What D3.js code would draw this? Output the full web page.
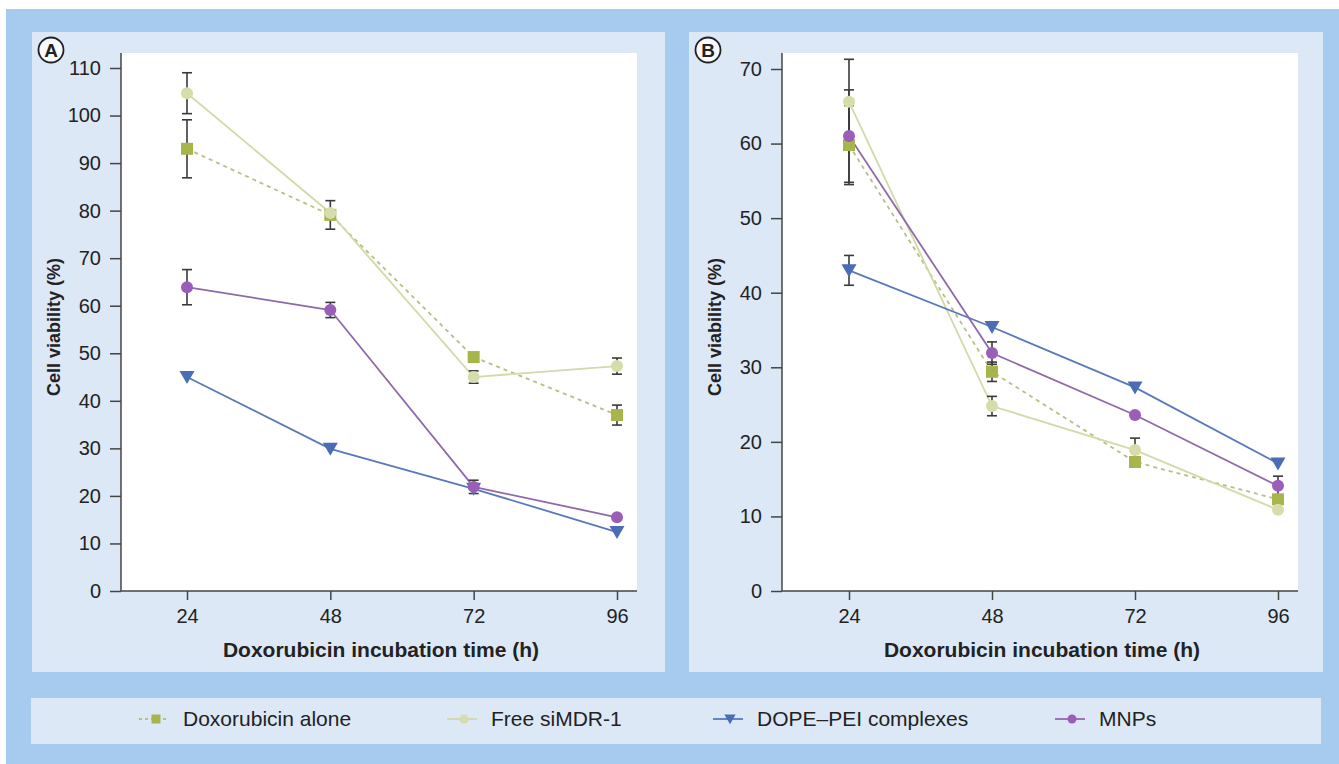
<!DOCTYPE html>
<html><head><meta charset="utf-8">
<script src="https://cdn.jsdelivr.net/npm/d3@7/dist/d3.min.js"></script>
<style>body{margin:0;background:#fff;}svg{display:block;font-family:"Liberation Sans",Arial,sans-serif;}</style>
</head><body>
<svg id="c" width="1339" height="764"></svg>
<script>
const hours = [24, 48, 72, 96];
const seriesNames = ["Doxorubicin alone", "Free siMDR-1", "DOPE\u2013PEI complexes", "MNPs"];
const yTicksA = [0,10,20,30,40,50,60,70,80,90,100,110];
const yTicksB = [0,10,20,30,40,50,60,70];

// Panel A
const doxA  = [93.0, 79.1, 49.2, 37.0];
const doxAErr = [6.1, 3.0, 0, 2.1];
const freeA = [104.7, 79.5, 45.0, 47.3];
const freeAErr = [4.3, 0, 1.3, 1.7];
const dopeA = [45.0, 29.9, 21.5, 12.4];
const dopeAErr = [0, 0, 0, 0];
const mnpA  = [63.9, 59.1, 21.9, 15.5];
const mnpAErr = [3.7, 1.6, 1.4, 0];

// Panel B
const doxB  = [59.8, 29.4, 17.3, 12.3];
const doxBErr = [5.3, 1.3, 0, 0];
const freeB = [65.6, 24.8, 18.9, 10.9];
const freeBErr = [5.7, 1.3, 1.6, 0];
const dopeB = [43.0, 35.4, 27.3, 17.1];
const dopeBErr = [2.0, 0, 0, 0];
const mnpB  = [61.0, 31.9, 23.6, 14.1];
const mnpBErr = [6.2, 1.5, 0, 1.3];

const styles = [
  {line:"#b8bf86", dash:"4,4", fill:"#a8b44c", shape:"square"},
  {line:"#d3d9a8", dash:null, fill:"#d6dcaa", shape:"circle"},
  {line:"#5a79bb", dash:null, fill:"#4a6db6", shape:"tri"},
  {line:"#8f6aab", dash:null, fill:"#9a5db8", shape:"circle"}
];

const svg = d3.select("#c");
svg.append("rect").attr("x",6).attr("y",9).attr("width",1333).attr("height",755).attr("fill","#a6cbee");

function panel(opt){
  const {px, pw, plotL, plotR, x24, x96, yMax, yTop, ticks, data, errs, label} = opt;
  const plotT = 53, plotB = 591;
  svg.append("rect").attr("x",px).attr("y",32).attr("width",pw).attr("height",640).attr("fill","#dde8f7");
  svg.append("rect").attr("x",plotL).attr("y",plotT).attr("width",plotR-plotL).attr("height",plotB-plotT).attr("fill","#ffffff");
  const x = d3.scaleLinear().domain([24,96]).range([x24,x96]);
  const y = d3.scaleLinear().domain([0,yMax]).range([plotB,yTop]);
  const g = svg.append("g");
  // y axis
  const ya = g.append("g").attr("transform",`translate(${plotL},0)`)
    .call(d3.axisLeft(y).tickValues(ticks).tickSize(11).tickPadding(9).tickSizeOuter(0));
  ya.select(".domain").remove();
  ya.selectAll("text").attr("font-size",20).attr("fill","#222").attr("font-family","Liberation Sans, Arial, sans-serif");
  ya.selectAll("line").attr("stroke","#444").attr("stroke-width",1.5);
  g.append("line").attr("x1",plotL).attr("x2",plotL).attr("y1",plotT).attr("y2",plotB).attr("stroke","#444").attr("stroke-width",1.5);
  // x axis
  const xa = g.append("g").attr("transform",`translate(0,${plotB})`)
    .call(d3.axisBottom(x).tickValues(hours).tickSize(9).tickPadding(9).tickSizeOuter(0));
  xa.select(".domain").remove();
  xa.selectAll("text").attr("font-size",20).attr("fill","#222").attr("font-family","Liberation Sans, Arial, sans-serif");
  xa.selectAll("line").attr("stroke","#444").attr("stroke-width",1.5);
  g.append("line").attr("x1",plotL).attr("x2",plotR).attr("y1",plotB).attr("y2",plotB).attr("stroke","#444").attr("stroke-width",1.5);
  // titles
  g.append("text").attr("transform",`translate(${plotL-61},${(plotT+plotB)/2+5}) rotate(-90)`)
    .attr("text-anchor","middle").attr("font-size",18).attr("font-weight","bold").attr("fill","#222").text("Cell viability (%)");
  g.append("text").attr("x",(plotL+plotR)/2+2).attr("y",657).attr("text-anchor","middle")
    .attr("font-size",21).attr("font-weight","bold").attr("fill","#222").text("Doxorubicin incubation time (h)");
  // panel label
  g.append("circle").attr("cx",px+19).attr("cy",50).attr("r",12.5).attr("fill","#f6f9fd").attr("stroke","#222").attr("stroke-width",1.8);
  g.append("text").attr("x",px+19).attr("y",57).attr("text-anchor","middle").attr("font-size",19).attr("font-weight","bold").attr("fill","#222").text(label);
  // lines
  const line = d3.line().x((d,i)=>x(hours[i])).y(d=>y(d));
  data.forEach((vals,s)=>{
    g.append("path").attr("d",line(vals)).attr("fill","none").attr("stroke",styles[s].line)
      .attr("stroke-width",1.8).attr("stroke-dasharray",styles[s].dash);
  });
  // error bars
  data.forEach((vals,s)=>{
    vals.forEach((v,i)=>{
      const e = errs[s][i]; if(!e) return;
      const cx = x(hours[i]);
      const eg = g.append("g").attr("stroke","#3a3a3a").attr("stroke-width",1.6);
      eg.append("line").attr("x1",cx).attr("x2",cx).attr("y1",y(v-e)).attr("y2",y(v+e));
      eg.append("line").attr("x1",cx-5).attr("x2",cx+5).attr("y1",y(v-e)).attr("y2",y(v-e));
      eg.append("line").attr("x1",cx-5).attr("x2",cx+5).attr("y1",y(v+e)).attr("y2",y(v+e));
    });
  });
  // markers
  data.forEach((vals,s)=>{
    vals.forEach((v,i)=>drawMarker(g, x(hours[i]), y(v), styles[s], 1));
  });
}

function drawMarker(g, cx, cy, st, k){
  if(st.shape==="square"){
    g.append("rect").attr("x",cx-6*k).attr("y",cy-6*k).attr("width",12*k).attr("height",12*k).attr("fill",st.fill);
  } else if(st.shape==="circle"){
    g.append("circle").attr("cx",cx).attr("cy",cy).attr("r",6*k).attr("fill",st.fill);
  } else {
    const w=7.5*k;
    g.append("path").attr("d",`M${cx-w},${cy-6*k}L${cx+w},${cy-6*k}L${cx},${cy+7*k}Z`).attr("fill",st.fill);
  }
}

panel({px:32, pw:633, plotL:121, plotR:637, x24:187, x96:617, yMax:110, yTop:68, ticks:yTicksA,
  data:[doxA,freeA,dopeA,mnpA], errs:[doxAErr,freeAErr,dopeAErr,mnpAErr], label:"A"});
panel({px:689, pw:634, plotL:782, plotR:1298, x24:849, x96:1278, yMax:70, yTop:69, ticks:yTicksB,
  data:[doxB,freeB,dopeB,mnpB], errs:[doxBErr,freeBErr,dopeBErr,mnpBErr], label:"B"});

// legend
svg.append("rect").attr("x",31).attr("y",698).attr("width",1290).attr("height",46).attr("fill","#dde8f7");
const legX = [139, 447, 713, 1055];
const lg = svg.append("g");
seriesNames.forEach((name,s)=>{
  const lx = legX[s], ly = 719;
  lg.append("line").attr("x1",lx).attr("x2",lx+30).attr("y1",ly).attr("y2",ly)
    .attr("stroke",styles[s].line).attr("stroke-width",1.8).attr("stroke-dasharray",styles[s].dash ? "3,3" : null);
  drawMarker(lg, lx+17, ly, styles[s], 0.75);
  lg.append("text").attr("x",lx+44).attr("y",ly+7).attr("font-size",21).attr("fill","#222").text(name);
});
</script>
</body></html>
